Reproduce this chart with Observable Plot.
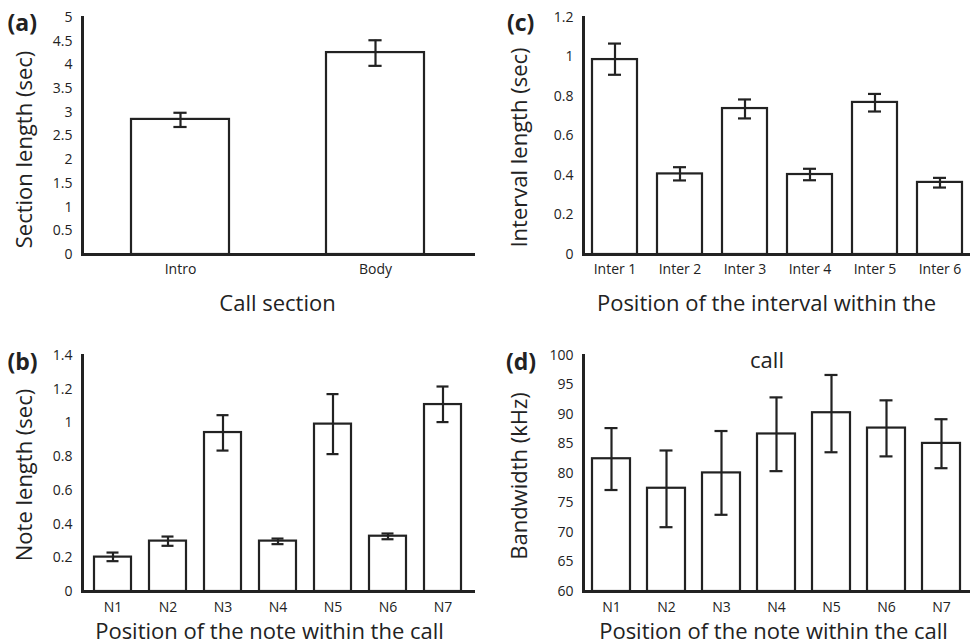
<!DOCTYPE html>
<html><head><meta charset="utf-8">
<script src="https://cdn.jsdelivr.net/npm/d3@7"></script>
<script src="https://cdn.jsdelivr.net/npm/@observablehq/plot@0.6"></script>
<style>
body{margin:0;background:#fff;}
#fig{position:relative;width:970px;height:644px;overflow:hidden;background:#fff;}
.panel{position:absolute;}
</style></head><body><div id="fig"></div>
<script>
// (a) Call section length
const sectionCats = ["Intro", "Body"];
const sectionMean = [2.85, 4.26];
const sectionLo   = [2.69, 3.98];
const sectionHi   = [2.99, 4.52];
const sectionTicks = [0, 0.5, 1, 1.5, 2, 2.5, 3, 3.5, 4, 4.5, 5];

// (c) Interval length
const intervalCats = ["Inter 1", "Inter 2", "Inter 3", "Inter 4", "Inter 5", "Inter 6"];
const intervalMean = [0.987, 0.408, 0.739, 0.405, 0.770, 0.365];
const intervalLo   = [0.910, 0.375, 0.689, 0.376, 0.724, 0.339];
const intervalHi   = [1.068, 0.442, 0.785, 0.434, 0.813, 0.388];
const intervalTicks = [0, 0.2, 0.4, 0.6, 0.8, 1, 1.2];

// (b) Note length
const noteCats = ["N1", "N2", "N3", "N4", "N5", "N6", "N7"];
const noteMean = [0.204, 0.299, 0.943, 0.299, 0.993, 0.328, 1.109];
const noteLo   = [0.180, 0.271, 0.836, 0.281, 0.815, 0.310, 1.005];
const noteHi   = [0.231, 0.326, 1.046, 0.314, 1.171, 0.344, 1.216];
const noteTicks = [0, 0.2, 0.4, 0.6, 0.8, 1, 1.2, 1.4];

// (d) Bandwidth
const bwCats = ["N1", "N2", "N3", "N4", "N5", "N6", "N7"];
const bwMean = [82.5, 77.5, 80.1, 86.7, 90.3, 87.7, 85.1];
const bwLo   = [77.2, 70.9, 73.0, 80.4, 83.6, 82.9, 80.9];
const bwHi   = [87.7, 83.9, 87.2, 92.9, 96.7, 92.4, 89.2];
const bwTicks = [60, 65, 70, 75, 80, 85, 90, 95, 100];

const INK = "#222";
const W = 485, H = 322;

function label(str, px, py, ml, mt, opts = {}) {
  return Plot.text([str], {
    text: d => d, frameAnchor: "top-left", dx: px - ml, dy: py - mt,
    fill: INK, fontSize: 22, ...opts
  });
}

function makePanel(o) {
  const data = o.cats.map((c, i) => ({cat: c, mean: o.mean[i], lo: o.lo[i], hi: o.hi[i]}));
  const {ml, mr, mt, mb} = o;
  const marks = [
    Plot.barY(data, {x: "cat", y1: o.base, y2: "mean", fill: "white", stroke: INK, strokeWidth: 2.2}),
    Plot.ruleX(data, {x: "cat", y1: "lo", y2: "hi", stroke: INK, strokeWidth: 2.2}),
    Plot.tickY(data, {x: "cat", y: "lo", stroke: INK, strokeWidth: 2.2, inset: o.capInset}),
    Plot.tickY(data, {x: "cat", y: "hi", stroke: INK, strokeWidth: 2.2, inset: o.capInset}),
    Plot.axisY({ticks: o.ticks, tickFormat: d => `${+d.toFixed(2)}`, tickSize: 0, tickPadding: 10, label: null, fill: INK, fontSize: 14}),
    Plot.axisX({tickSize: 0, tickPadding: o.xPad, label: null, fill: INK, fontSize: 14}),
    Plot.frame({anchor: "left", stroke: INK, strokeWidth: 3}),
    Plot.frame({anchor: "bottom", stroke: INK, strokeWidth: 3}),
    label(o.yLabel, o.yLabelX, o.yLabelY, ml, mt, {rotate: -90, lineAnchor: "top", textAnchor: "middle"}),
    label(o.xLabel, o.xLabelX, o.xLabelY, ml, mt, {lineAnchor: "bottom", textAnchor: "middle"}),
    label(o.tag, o.tagX, o.tagY, ml, mt, {lineAnchor: "bottom", textAnchor: "start", fontWeight: "bold", fontSize: 23})
  ];
  if (o.extra) marks.push(label(o.extra.text, o.extra.x, o.extra.y, ml, mt, {lineAnchor: "bottom", textAnchor: "middle"}));
  const svg = Plot.plot({
    width: W, height: H,
    marginLeft: ml, marginRight: mr, marginTop: mt, marginBottom: mb,
    style: {fontFamily: "Open Sans", fontSize: "14px", background: "transparent", color: INK, overflow: "visible"},
    x: {domain: o.cats, paddingInner: o.pi, paddingOuter: o.po},
    y: {domain: o.domain},
    marks
  });
  const div = document.createElement("div");
  div.className = "panel";
  div.style.left = o.left + "px";
  div.style.top = o.top + "px";
  div.appendChild(svg);
  document.getElementById("fig").appendChild(div);
}

makePanel({
  cats: sectionCats, mean: sectionMean, lo: sectionLo, hi: sectionHi, ticks: sectionTicks,
  domain: [0, 5], base: 0, left: 0, top: 0,
  ml: 82, mr: 12, mt: 17, mb: 68, pi: 0.5, po: 0.25, capInset: 42.4, xPad: 10,
  yLabel: "Section length (sec)", yLabelX: 16, yLabelY: 149,
  xLabel: "Call section", xLabelX: 277, xLabelY: 310,
  tag: "(a)", tagX: 7, tagY: 30
});
makePanel({
  cats: intervalCats, mean: intervalMean, lo: intervalLo, hi: intervalHi, ticks: intervalTicks,
  domain: [0, 1.2], base: 0, left: 485, top: 0,
  ml: 98, mr: 0, mt: 17, mb: 68, pi: 0.31, po: 0.13, capInset: 16, xPad: 10,
  yLabel: "Interval length (sec)", yLabelX: 26, yLabelY: 147,
  xLabel: "Position of the interval within the", xLabelX: 281, xLabelY: 310,
  tag: "(c)", tagX: 21.5, tagY: 30
});
makePanel({
  cats: noteCats, mean: noteMean, lo: noteLo, hi: noteHi, ticks: noteTicks,
  domain: [0, 1.4], base: 0, left: 0, top: 322,
  ml: 82, mr: 12, mt: 33, mb: 53, pi: 0.32, po: 0.16, capInset: 12.5, xPad: 11,
  yLabel: "Note length (sec)", yLabelX: 16, yLabelY: 152.5,
  xLabel: "Position of the note within the call", xLabelX: 269, xLabelY: 316,
  tag: "(b)", tagX: 7, tagY: 47
});
makePanel({
  cats: bwCats, mean: bwMean, lo: bwLo, hi: bwHi, ticks: bwTicks,
  domain: [60, 100], base: 60, left: 485, top: 322,
  ml: 98, mr: 2, mt: 33, mb: 53, pi: 0.31, po: 0.145, capInset: 12.5, xPad: 11,
  yLabel: "Bandwidth (kHz)", yLabelX: 25.5, yLabelY: 153.5,
  xLabel: "Position of the note within the call", xLabelX: 288, xLabelY: 316,
  tag: "(d)", tagX: 20.5, tagY: 47,
  extra: {text: "call", x: 281.5, y: 45}
});
</script></body></html>
